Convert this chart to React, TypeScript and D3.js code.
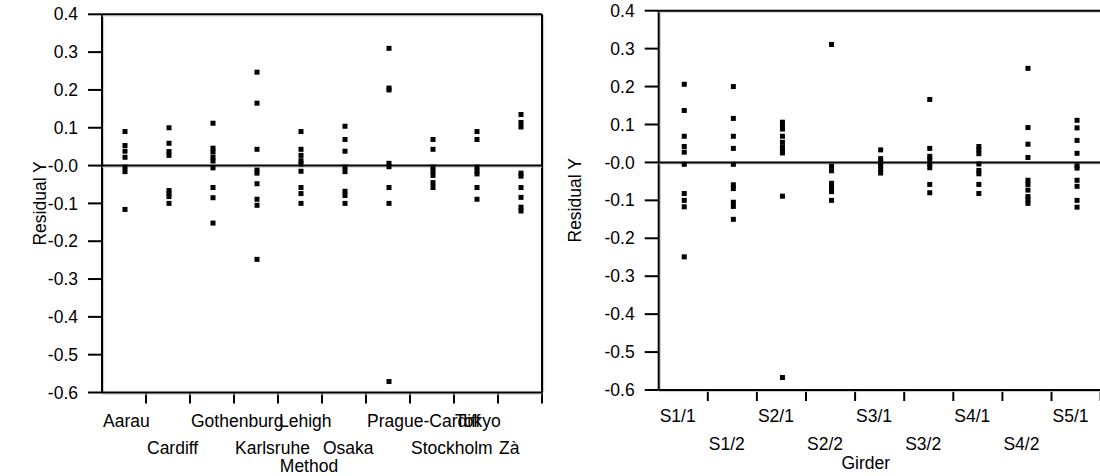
import React from 'react';
import * as d3 from 'd3';

// residuals by test method (left panel)
const methods = ['Aarau', 'Cardiff', 'Gothenburg', 'Karlsruhe', 'Lehigh', 'Osaka', 'Prague-Cardiff', 'Stockholm', 'Tokyo', 'Zà'];
const methodResiduals = [
  [0.09, 0.053, 0.038, 0.022, -0.004, -0.016, -0.116],
  [0.1, 0.059, 0.037, 0.027, -0.066, -0.074, -0.082, -0.1],
  [0.112, 0.046, 0.036, 0.022, 0.012, -0.006, -0.058, -0.085, -0.152],
  [0.247, 0.165, 0.043, -0.012, -0.02, -0.048, -0.089, -0.105, -0.248],
  [0.09, 0.043, 0.027, 0.013, 0.004, -0.015, -0.058, -0.074, -0.1],
  [0.104, 0.069, 0.038, -0.004, -0.016, -0.068, -0.079, -0.1],
  [0.31, 0.205, 0.2, 0.006, -0.003, -0.058, -0.1, -0.571],
  [0.069, 0.043, -0.004, -0.014, -0.026, -0.045, -0.058],
  [0.09, 0.069, -0.004, -0.014, -0.022, -0.058, -0.089],
  [0.135, 0.114, 0.102, -0.02, -0.028, -0.058, -0.084, -0.11, -0.12],
];

// residuals by girder (right panel)
const girders = ['S1/1', 'S1/2', 'S2/1', 'S2/2', 'S3/1', 'S3/2', 'S4/1', 'S4/2', 'S5/1'];
const girderResiduals = [
  [0.206, 0.137, 0.069, 0.042, 0.027, -0.005, -0.082, -0.1, -0.117, -0.249],
  [0.2, 0.116, 0.069, 0.037, -0.005, -0.059, -0.069, -0.105, -0.116, -0.15],
  [0.106, 0.095, 0.088, 0.069, 0.053, 0.04, 0.03, 0.025, -0.089, -0.567],
  [0.311, -0.01, -0.022, -0.055, -0.066, -0.077, -0.1],
  [0.033, 0.01, 0.0, -0.008, -0.018, -0.028],
  [0.166, 0.037, 0.016, 0.007, -0.004, -0.014, -0.058, -0.08],
  [0.042, 0.033, 0.023, -0.004, -0.021, -0.03, -0.058, -0.082],
  [0.248, 0.092, 0.048, 0.013, -0.047, -0.058, -0.073, -0.09, -0.099, -0.108],
  [0.111, 0.091, 0.058, 0.024, -0.009, -0.015, -0.047, -0.063, -0.1, -0.118],
];

const yTicks = [0.4, 0.3, 0.2, 0.1, 0, -0.1, -0.2, -0.3, -0.4, -0.5, -0.6];
const yTickLabels = ['0.4', '0.3', '0.2', '0.1', '-0.0', '-0.1', '-0.2', '-0.3', '-0.4', '-0.5', '-0.6'];

const FONT = '"Liberation Sans", Arial, sans-serif';

// black line with a faint grey edge, like the reference's rendering
function Rule({ x1, y1, x2, y2 }: { x1: number; y1: number; x2: number; y2: number }) {
  const horiz = y1 === y2;
  return (
    <g>
      <line
        x1={x1 + (horiz ? 0 : 1.6)} x2={x2 + (horiz ? 0 : 1.6)}
        y1={y1 + (horiz ? 1.6 : 0)} y2={y2 + (horiz ? 1.6 : 0)}
        stroke="#c8c8c8" strokeWidth={1}
      />
      <line x1={x1} y1={y1} x2={x2} y2={y2} stroke="#000" strokeWidth={2} />
    </g>
  );
}

interface PanelProps {
  categories: string[];
  values: number[][];
  x0: number;
  x1: number;
  yTop: number;
  yBottom: number;
  xTitle: string;
  yTitleX: number;
  frame: boolean;
  row1: number;
  row2: number;
  titleDy: number;
}

function Panel({ categories, values, x0, x1, yTop, yBottom, xTitle, yTitleX, frame, row1, row2, titleDy }: PanelProps) {
  const x = d3.scaleBand<string>().domain(categories).range([x0, x1]).padding(0);
  const y = d3.scaleLinear().domain([-0.6, 0.4]).range([yBottom, yTop]);
  const bw = x.bandwidth();
  const boundaries = d3.range(1, categories.length + 1).map(i => x0 + i * bw);
  const size = 5;

  return (
    <g fontFamily={FONT} fontSize={17.5} fill="#000">
      {/* y ticks */}
      {yTicks.map((t, i) => (
        <g key={t}>
          <line x1={x0 - 14} x2={x0} y1={y(t)} y2={y(t)} stroke="#000" strokeWidth={2} />
          <text x={x0 - 24} y={y(t)} dy="0.35em" textAnchor="end">{yTickLabels[i]}</text>
        </g>
      ))}
      {/* x ticks */}
      {boundaries.map(b => (
        <line key={b} x1={b} x2={b} y1={yBottom} y2={yBottom + 11} stroke="#000" strokeWidth={2} />
      ))}
      {/* frame */}
      <Rule x1={x0} y1={yTop} x2={x0} y2={yBottom} />
      <Rule x1={x0} y1={yBottom} x2={x1} y2={yBottom} />
      <Rule x1={x0} y1={yTop} x2={x1} y2={yTop} />
      {frame && <Rule x1={x1} y1={yTop} x2={x1} y2={yBottom} />}
      {/* zero reference */}
      <Rule x1={x0} y1={y(0)} x2={x1} y2={y(0)} />
      {/* points */}
      {categories.map((c, i) =>
        values[i].map((v, j) => (
          <rect
            key={`${c}-${j}`}
            x={(x(c) as number) + bw / 2 + 1 - size / 2}
            y={y(v) - size / 2}
            width={size}
            height={size}
            fill="#000"
          />
        ))
      )}
      {/* category labels, staggered */}
      {categories.map((c, i) => (
        <text key={c} x={(x(c) as number) + 1} y={yBottom + (i % 2 === 0 ? row1 : row2)}>{c}</text>
      ))}
      <text x={x0 + 207} y={yBottom + titleDy} textAnchor="middle">{xTitle}</text>
      <text
        transform={`translate(${yTitleX},${(yTop + yBottom) / 2}) rotate(-90)`}
        textAnchor="middle"
        fontSize={17.5}
      >
        Residual Y
      </text>
    </g>
  );
}

export default function App() {
  return (
    <svg
      width={1100}
      height={476}
      style={{ position: 'absolute', left: 0, top: 0, background: '#fff' }}
    >
      <rect width={1100} height={476} fill="#fff" />
      <Panel
        categories={methods}
        values={methodResiduals}
        x0={102}
        x1={542}
        yTop={14.3}
        yBottom={392.5}
        xTitle="Method"
        yTitleX={46}
        frame={true}
        row1={34}
        row2={61}
        titleDy={79}
      />
      <Panel
        categories={girders}
        values={girderResiduals}
        x0={658.7}
        x1={1100.6}
        yTop={10.7}
        yBottom={390}
        xTitle="Girder"
        yTitleX={581}
        frame={false}
        row1={31.5}
        row2={59.5}
        titleDy={78.5}
      />
    </svg>
  );
}
